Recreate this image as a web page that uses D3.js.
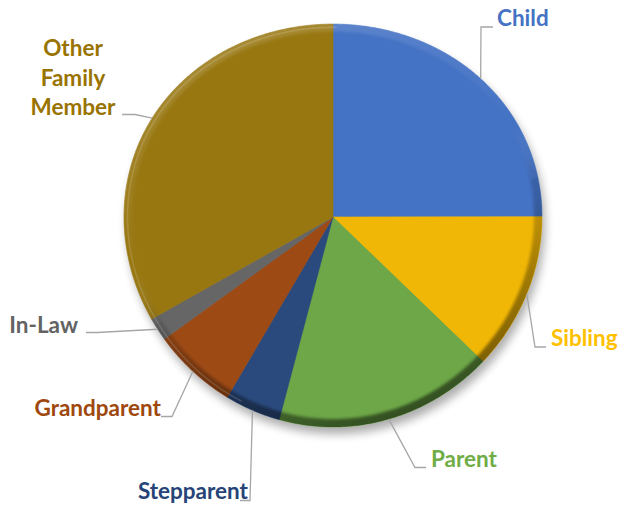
<!DOCTYPE html>
<html>
<head>
<meta charset="utf-8">
<script src="https://cdn.jsdelivr.net/npm/d3@7/dist/d3.min.js"></script>
<style>
  html, body { margin: 0; padding: 0; background: #ffffff; }
  svg { display: block; }
  text { font-family: Lato, "Open Sans", sans-serif; font-weight: 700; }
</style>
</head>
<body>
<svg id="chart" width="624" height="508"></svg>
<script>
// ---- data ----
const categories = ["Child", "Sibling", "Parent", "Stepparent", "Grandparent", "In-Law", "Other Family Member"];
const values = [25.0, 12.3, 16.9, 4.3, 6.5, 1.8, 33.3];
const sliceColors = ["#4472C4", "#F1B706", "#6DA747", "#2A4A7D", "#9D4A15", "#666666", "#987711"];
const labelColors = ["#4472C4", "#FFC000", "#70AD47", "#264478", "#9E480E", "#636363", "#997300"];
const labelLines = [["Child"], ["Sibling"], ["Parent"], ["Stepparent"], ["Grandparent"], ["In-Law"], ["Other", "Family", "Member"]];

// ---- layout ----
const W = 624, H = 508;
const cx = 333, cy = 217, R = 209;
const fontSize = 22.5;
// label anchor / leader elbow layout (per category)
const labelLayout = {
  "Child":       { x: 497, y: 26, anchor: "start", elbow: [[481, 27], [493, 27]] },
  "Sibling":     { x: 551, y: 346, anchor: "start", elbow: [[535, 347], [546, 347]] },
  "Parent":      { x: 431, y: 467, anchor: "start", elbow: [[415, 467.5], [426, 467.5]] },
  "Stepparent":  { x: 248, y: 499, anchor: "end", elbow: [[250, 500.5], [240, 500.5]] },
  "Grandparent": { x: 161, y: 416, anchor: "end", elbow: [[172, 416.5], [161, 416.5]] },
  "In-Law":      { x: 78, y: 333, anchor: "end", elbow: [[97, 332.5], [86, 332.5]] },
  "Other Family Member": { x: 73, y: 56, anchor: "middle", lineGap: 29.5, elbow: [[135, 114.5], [122, 114.5]] }
};

// slight perspective: top half compressed, bottom half full
function proj(theta, r) {
  const c = Math.cos(theta), s = Math.sin(theta);
  return [cx + r * s, cy - r * (0.964 * c - 0.041 * c * c)];
}
function arcPoints(a0, a1, r) {
  const n = Math.max(2, Math.ceil(Math.abs(a1 - a0) / (Math.PI / 360)));
  return d3.range(n + 1).map(i => proj(a0 + (a1 - a0) * i / n, r));
}
const line = d3.line();

const svg = d3.select("#chart");
const defs = svg.append("defs");

// shadow filter
const shf = defs.append("filter").attr("id", "shadow").attr("x", "-20%").attr("y", "-20%").attr("width", "140%").attr("height", "140%");
shf.append("feGaussianBlur").attr("stdDeviation", 5);

const blur = defs.append("filter").attr("id", "soft").attr("x", "-10%").attr("y", "-10%").attr("width", "120%").attr("height", "120%");
blur.append("feGaussianBlur").attr("stdDeviation", 1.6);

// bevel gradient
const grad = defs.append("linearGradient").attr("id", "bevel")
  .attr("x1", "0.25").attr("y1", "0").attr("x2", "0.65").attr("y2", "1");
grad.append("stop").attr("offset", "0").attr("stop-color", "#ffffff").attr("stop-opacity", 0.16);
grad.append("stop").attr("offset", "0.45").attr("stop-color", "#ffffff").attr("stop-opacity", 0.0);
grad.append("stop").attr("offset", "0.6").attr("stop-color", "#000000").attr("stop-opacity", 0.15);
grad.append("stop").attr("offset", "1").attr("stop-color", "#000000").attr("stop-opacity", 0.55);

const outline = line(arcPoints(0, 2 * Math.PI, R)) + "Z";
defs.append("clipPath").attr("id", "pieClip").append("path").attr("d", outline);

// shadow
svg.append("path").attr("d", outline)
  .attr("fill", "#000").attr("opacity", 0.32)
  .attr("transform", "translate(3,7)")
  .attr("filter", "url(#shadow)");

// pie slices
const pie = d3.pie().sort(null).value(d => d)(values);
const gSlices = svg.append("g");
gSlices.selectAll("path").data(pie).join("path")
  .attr("d", d => line([[cx, cy], ...arcPoints(d.startAngle, d.endAngle, R)]) + "Z")
  .attr("fill", (d, i) => sliceColors[i])
  .attr("stroke", (d, i) => sliceColors[i])
  .attr("stroke-width", 0.6);

// bevel ring
const ringPath = line(arcPoints(0, 2 * Math.PI, R + 4)) + "Z" + line(arcPoints(2 * Math.PI, 0, R - 8)) + "Z";
svg.append("g").attr("clip-path", "url(#pieClip)")
  .append("path").attr("d", ringPath)
  .attr("fill", "url(#bevel)").attr("fill-rule", "evenodd")
  .attr("filter", "url(#soft)");
// thin highlight line on top-left rim
svg.append("g").attr("clip-path", "url(#pieClip)")
  .append("path").attr("d", line(arcPoints(3.6, 6.3, R - 3.5)))
  .attr("fill", "none").attr("stroke", "#ffffff").attr("stroke-opacity", 0.14).attr("stroke-width", 1.5);

// leader lines and labels
const gLab = svg.append("g");
pie.forEach((d, i) => {
  const name = categories[i];
  const L = labelLayout[name];
  const mid = (d.startAngle + d.endAngle) / 2;
  const p0 = proj(mid, R);
  gLab.append("path")
    .attr("d", line([p0, ...L.elbow]))
    .attr("fill", "none").attr("stroke", "#a6a6a6").attr("stroke-width", 1.3);
  const t = gLab.append("text")
    .attr("x", L.x).attr("y", L.y)
    .attr("text-anchor", L.anchor)
    .attr("font-size", fontSize)
    .attr("fill", labelColors[i]);
  labelLines[i].forEach((ln, k) => {
    t.append("tspan").attr("x", L.x).attr("y", L.y + k * (L.lineGap || 0)).text(ln);
  });
});
</script>
</body>
</html>
